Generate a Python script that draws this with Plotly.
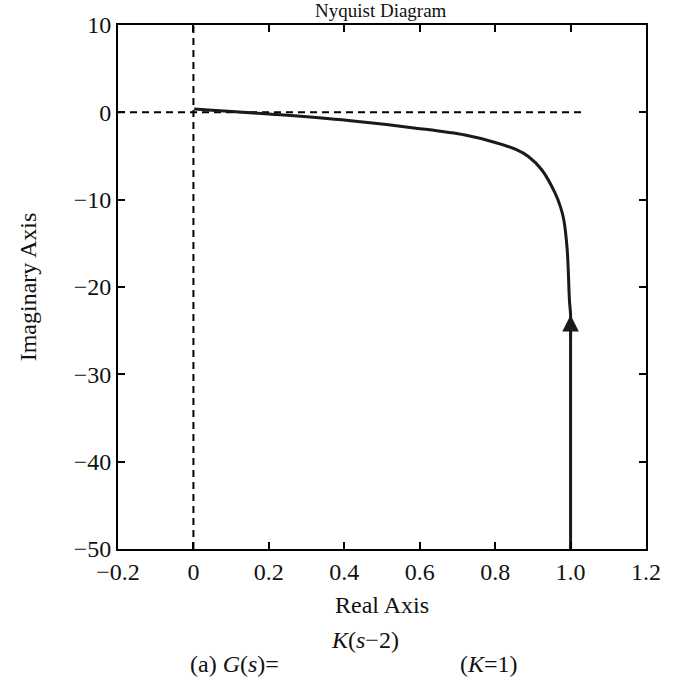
import plotly.graph_objects as go

# Nyquist curve (from omega -> 0 at bottom to origin)
real_part = [1.0, 1.0, 1.0, 1.0, 0.997, 0.991, 0.982, 0.973, 0.959, 0.924,
             0.888, 0.855, 0.80, 0.72, 0.59, 0.411, 0.231, 0.002]
imag_part = [-50.0, -40.0, -26.0, -23.2, -21.5, -15.7, -12.3, -10.8, -9.25, -6.6,
             -5.06, -4.25, -3.45, -2.6, -1.81, -0.94, -0.29, 0.37]
arrow_index = 3  # arrow tip at this point, pointing from the previous one

x_ticks = [-0.2, 0, 0.2, 0.4, 0.6, 0.8, 1.0, 1.2]
x_tick_labels = ["\u22120.2", "0", "0.2", "0.4", "0.6", "0.8", "1.0", "1.2"]
y_ticks = [10, 0, -10, -20, -30, -40, -50]
y_tick_labels = ["10", "0", "\u221210", "\u221220", "\u221230", "\u221240", "\u221250"]
x_range = [-0.2, 1.2]
y_range = [-50, 10]
hline_x = [-0.2, 1.04]

FONT = "Liberation Serif"
FS = 24

fig = go.Figure()
# dashed reference axes
fig.add_trace(go.Scatter(x=[0, 0], y=y_range, mode="lines",
                         line=dict(color="black", width=2, dash="7px,5px"),
                         hoverinfo="skip", showlegend=False))
fig.add_trace(go.Scatter(x=hline_x, y=[0, 0], mode="lines",
                         line=dict(color="black", width=2, dash="7px,5px"),
                         hoverinfo="skip", showlegend=False))
# Nyquist curve
fig.add_trace(go.Scatter(x=real_part, y=imag_part, mode="lines",
                         line=dict(color="#1a1a1a", width=3, shape="spline", smoothing=1.0),
                         showlegend=False))

fig.add_annotation(x=real_part[arrow_index], y=imag_part[arrow_index],
                   ax=real_part[arrow_index - 1], ay=imag_part[arrow_index - 1],
                   xref="x", yref="y", axref="x", ayref="y",
                   showarrow=True, arrowhead=2, arrowsize=1.1, arrowwidth=3,
                   arrowcolor="#1a1a1a", text="")

axis_common = dict(showgrid=False, zeroline=False, showline=True, linecolor="black",
                   linewidth=2, mirror="ticks", ticks="inside", ticklen=7,
                   tickwidth=2, tickcolor="black",
                   tickfont=dict(family=FONT, size=FS, color="#111"))

fig.update_xaxes(range=x_range, tickvals=x_ticks, ticktext=x_tick_labels,
                 title=dict(text="Real Axis", font=dict(family=FONT, size=FS, color="#111"),
                            standoff=12),
                 **axis_common)
fig.update_yaxes(range=y_range, tickvals=y_ticks, ticktext=y_tick_labels,
                 title=dict(text="Imaginary Axis", font=dict(family=FONT, size=FS, color="#111"),
                            standoff=30),
                 **axis_common)

# Title near the top edge
fig.add_annotation(text="Nyquist Diagram", xref="paper", yref="paper",
                   x=(381 - 118) / 528, y=1.0 + 2 / 524, yanchor="bottom", showarrow=False,
                   font=dict(family=FONT, size=19, color="#111"))
# Caption below the chart
fig.add_annotation(text="<i>K</i>(<i>s</i>\u22122)", xref="paper", yref="paper",
                   x=(365 - 118) / 528, y=-(640 - 549) / 524, yanchor="middle",
                   showarrow=False, font=dict(family=FONT, size=FS, color="#111"))
fig.add_annotation(text="(a) <i>G</i>(<i>s</i>)=", xref="paper", yref="paper",
                   x=(188 - 118) / 528, xanchor="left", y=-(679 - 549) / 524, yanchor="bottom",
                   showarrow=False, font=dict(family=FONT, size=FS, color="#111"))
fig.add_annotation(text="(<i>K</i>=1)", xref="paper", yref="paper",
                   x=(458 - 118) / 528, xanchor="left", y=-(679 - 549) / 524, yanchor="bottom",
                   showarrow=False, font=dict(family=FONT, size=FS, color="#111"))

fig.update_layout(width=690, height=680, paper_bgcolor="white", plot_bgcolor="white",
                  margin=dict(l=118, r=44, t=25, b=131))

fig.write_html("out.html")
